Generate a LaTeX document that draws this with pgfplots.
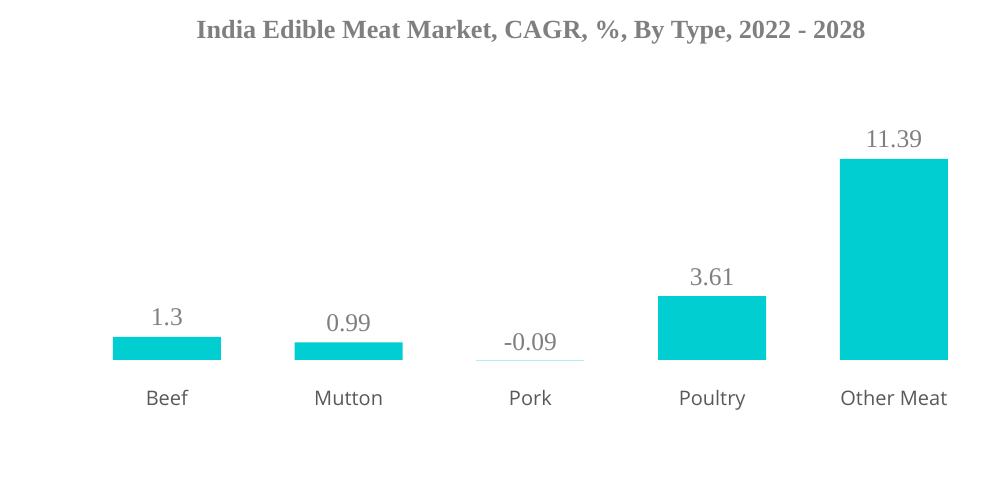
\documentclass[border=0pt]{standalone}
\usepackage{pgfplots}
\pgfplotsset{compat=1.18}
\usepackage{fontspec}
\setmainfont{Liberation Serif}
\newfontfamily\catfont{Open Sans}
\definecolor{barc}{RGB}{0,206,209}
\definecolor{barl}{RGB}{178,238,238}
\definecolor{tgray}{RGB}{127,127,127}
\definecolor{cgray}{RGB}{89,89,89}
\begin{document}
\begin{tikzpicture}[x=1pt,y=1pt]
\useasboundingbox (0,0) rectangle (1000,483);
\node[text=tgray,font=\fontsize{26.2}{30}\selectfont\bfseries] at (531,451) {India Edible Meat Market, CAGR, \%, By Type, 2022 - 2028};
\begin{axis}[
  at={(76pt,84.2pt)}, anchor=south west,
  scale only axis, width=908.75pt, height=290.5pt,
  xmin=-0.5, xmax=4.5, ymin=-2.21, ymax=14.25,
  axis line style={draw=none},
  clip=false,
  xtick={0,1,2,3,4}, major tick length=0pt,
  xticklabels={Beef,Mutton,Pork,Poultry,Other Meat},
  xticklabel style={anchor=base, text=cgray, font=\catfont\fontsize{20}{24}\selectfont, inner sep=0pt, yshift=-7pt},
  ytick=\empty,
  ybar, bar width=108pt, bar shift=0pt,
  nodes near coords,
  every node near coord/.append style={anchor=south, text=tgray, font=\fontsize{25.5}{30}\selectfont, yshift=7pt},
  nodes near coords style={/pgf/number format/fixed, /pgf/number format/precision=2, /pgf/number format/assume math mode=true},
]
\addplot[draw=none, fill=barc] coordinates {(0,1.3) (1,0.99) (3,3.61) (4,11.39)};
\addplot[draw=none, fill=barl] coordinates {(2,-0.09)};
\end{axis}
\end{tikzpicture}
\end{document}
